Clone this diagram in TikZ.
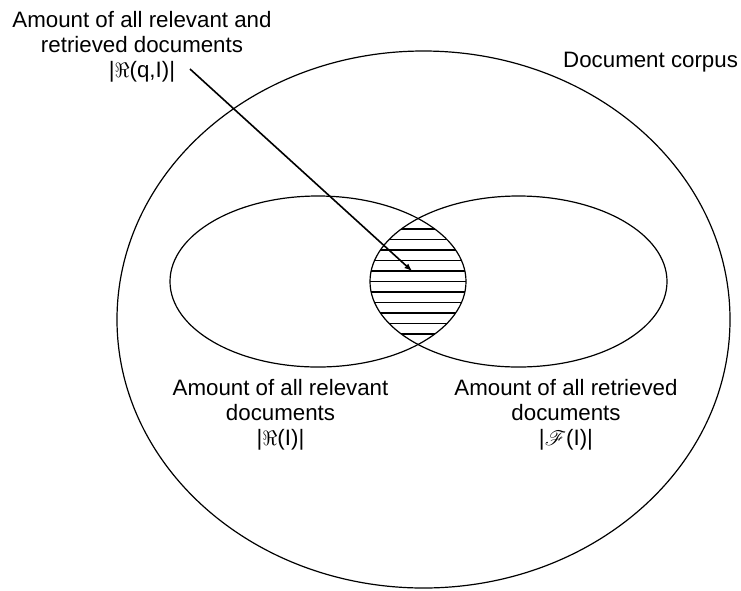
\documentclass[tikz,border=0pt]{standalone}
\usepackage{fontspec}
\setmainfont{Liberation Sans}
\usepackage{amssymb}
\usepackage{mathrsfs}

\begin{document}
\begin{tikzpicture}[x=1pt,y=-1pt,
  txt/.style={align=center,inner sep=0pt,font=\fontsize{22.3}{25}\selectfont},
  set/.style={line width=1.2pt}]
\useasboundingbox (0,0) rectangle (741,590);

% Hatched intersection
\begin{scope}
\clip (318,281.5) ellipse [x radius=148, y radius=85.5];
\clip (518.5,281.5) ellipse [x radius=148.5, y radius=85.5];
\foreach \i in {0,...,10}
  \draw[line width=1.4pt] (360,229+10.5*\i) -- (480,229+10.5*\i);
\end{scope}

% Sets
\draw[set] (423.5,319.5) ellipse [x radius=306.5, y radius=268.5];
\draw[set] (318,281.5) ellipse [x radius=148, y radius=85.5];
\draw[set] (518.5,281.5) ellipse [x radius=148.5, y radius=85.5];

% Labels (base = last line)
\node[txt,anchor=base] (both) at (142,77)
  {Amount of all relevant and\\retrieved documents\\|$\Re$(q,I)|};
\node[txt,anchor=base] (rel) at (280.5,445)
  {Amount of all relevant\\documents\\|$\Re$(I)|};
\node[txt,anchor=base] (ret) at (566,445.5)
  {Amount of all retrieved\\documents\\|$\mathscr{F}$(I)|};
\node[txt,anchor=base west] (corpus) at (563,67) {Document corpus};

% Arrow
\coordinate (start) at (190,69);
\coordinate (tip) at (412,271);
\draw[line width=1.6pt,-latex] (start) -- (tip);
\end{tikzpicture}
\end{document}
